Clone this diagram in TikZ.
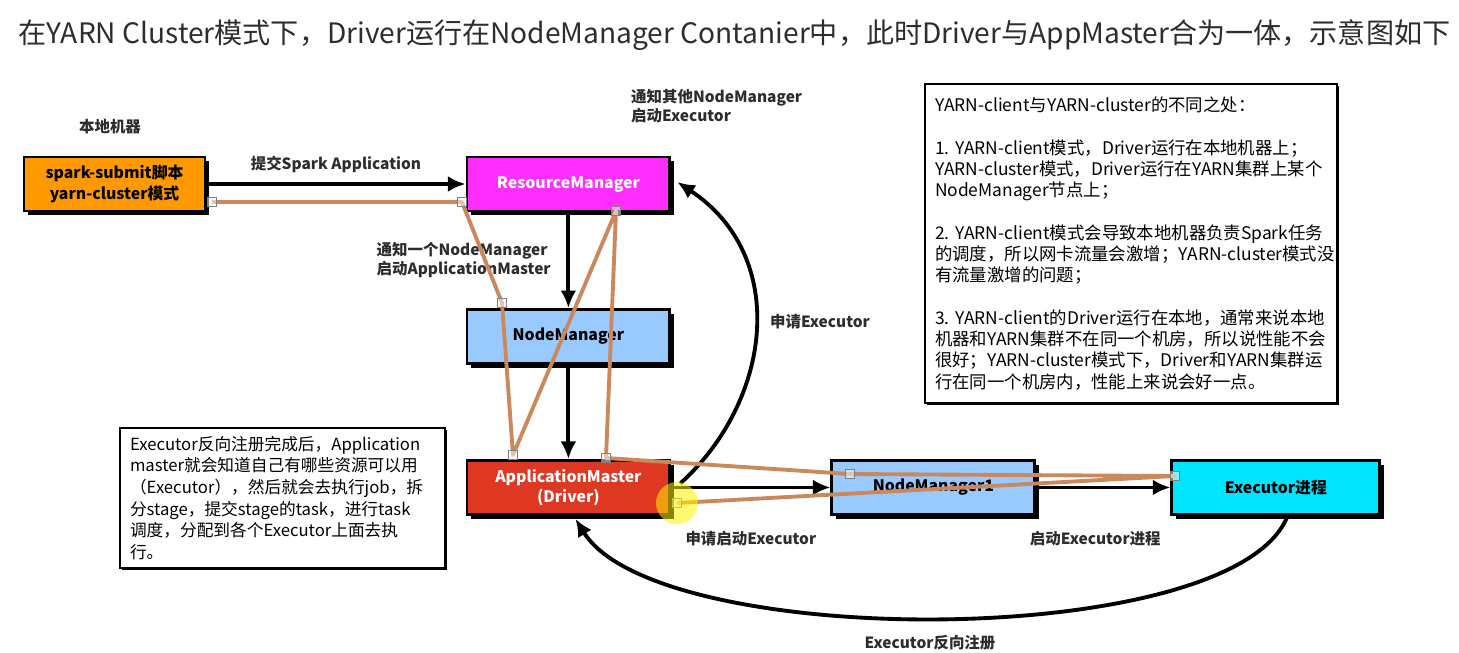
\documentclass[tikz,border=0pt]{standalone}
\usepackage{fontspec}
\setmainfont{Noto Sans CJK SC}
\usetikzlibrary{positioning, arrows.meta, shadows}
\definecolor{subOrange}{RGB}{255,153,0}
\definecolor{rmPink}{RGB}{255,45,255}
\definecolor{nmBlue}{RGB}{153,202,255}
\definecolor{amRed}{RGB}{222,56,34}
\definecolor{exeCyan}{RGB}{0,228,255}
\definecolor{penBrown}{RGB}{202,136,92}
\definecolor{inkGray}{RGB}{45,45,45}
\tikzset{>={Latex[length=10pt,width=9pt]}}
\tikzset{
    box/.style={draw=black, line width=1.6pt, minimum width=4.06cm, minimum height=1.08cm,
        align=center, font=\bfseries\fontsize{9}{11.5}\selectfont,
        drop shadow={shadow xshift=2.5pt, shadow yshift=-2.5pt, fill=black, opacity=1}},
    note/.style={draw=black, line width=1.3pt, fill=white, align=left,
        execute at begin node={\hyphenpenalty=10000 \exhyphenpenalty=10000},
        drop shadow={shadow xshift=1.2pt, shadow yshift=-1.2pt, fill=black, opacity=1}},
    lbl/.style={font=\bfseries\fontsize{8.8}{11}\selectfont, text=inkGray, align=left},
    flow/.style={->, line width=2.2pt},
    pen/.style={penBrown, line width=2.2pt, line join=round},
    knob/.style={draw=gray, fill=white, fill opacity=0.5, line width=0.5pt, minimum size=5pt, inner sep=0pt}
}
\begin{document}
\begin{tikzpicture}[x=0.02cm, y=-0.02cm, node distance=2cm, on grid]
    \useasboundingbox (0,0) rectangle (1459,652);
    % title
    \node[anchor=west, inner sep=0pt, text=inkGray, font=\fontsize{16}{19}\selectfont] (title) at (18,35)
        {在YARN Cluster模式下，Driver运行在NodeManager Contanier中，此时Driver与AppMaster合为一体，示意图如下};
    % boxes
    \node[box, fill=subOrange, minimum width=3.62cm] (sub) at (114.5,184) {spark-submit脚本\\yarn-cluster模式};
    \node[box, fill=rmPink, text=white, right=9.08cm of sub] (rm) {ResourceManager};
    \node[box, fill=nmBlue, below=3.05cm of rm] (nm) {NodeManager};
    \node[box, fill=amRed, text=white, below=3.02cm of nm] (am) {ApplicationMaster\\(Driver)};
    \node[box, fill=nmBlue, right=7.3cm of am] (nm1) {NodeManager1};
    \node[box, fill=exeCyan, minimum width=4.16cm, right=6.85cm of nm1] (exe) {Executor进程};
    \node[lbl] (local) at (110,127) {本地机器};
    \node[lbl, anchor=west] (tellall) at (625,106) {通知其他NodeManager\\启动Executor};
    % notes
    \node[note, minimum width=8.24cm, minimum height=6.38cm, text width=7.84cm,
        font=\fontsize{9.9}{12.1}\selectfont] (diff) at (1131,243.5)
        {YARN-client与YARN-cluster的不同之处：\\[12.1pt]
        1.~YARN-client模式，Driver运行在本地机器上；\\
        YARN-cluster模式，Driver运行在YARN集群上某个\\
        NodeManager节点上；\\[12.1pt]
        2.~YARN-client模式会导致本地机器负责Spark任务\\
        的调度，所以网卡流量会激增；YARN-cluster模式没\\
        有流量激增的问题；\\[12.1pt]
        3.~YARN-client的Driver运行在本地，通常来说本地\\
        机器和YARN集群不在同一个机房，所以说性能不会\\
        很好；YARN-cluster模式下，Driver和YARN集群运\\
        行在同一个机房内，性能上来说会好一点。};
    \node[note, minimum width=6.5cm, minimum height=2.8cm, text width=6.1cm,
        font=\fontsize{9.5}{12.3}\selectfont] (after) at (282.5,498)
        {Executor反向注册完成后，Application\\
        master就会知道自己有哪些资源可以用\\
        （Executor），然后就会去执行job，拆\\
        分stage，提交stage的task，进行task\\
        调度，分配到各个Executor上面去执\\
        行。};
    % arrows
    \draw[flow] (sub) -- node[lbl, above=0.08cm] {提交Spark Application} (rm);
    \draw[flow] (rm) -- node[lbl, left=0.2cm] {通知一个NodeManager\\启动ApplicationMaster} (nm);
    \draw[flow] (nm) -- (am);
    \draw[flow] (am) -- node[lbl, below=0.72cm] {申请启动Executor} (nm1);
    \draw[flow] (nm1) -- node[lbl, below=0.72cm, xshift=-0.16cm] {启动Executor进程} (exe);
    \draw[flow] ([xshift=0.18cm, yshift=0.08cm]am.east) .. controls +(92,-83) and +(112,74) .. ([xshift=0.12cm, yshift=0.04cm]rm.east);
    \node[lbl] (ask) at (820,322) {申请Executor};
    \draw[flow] ([xshift=0.22cm, yshift=-0.04cm]exe.south) .. controls +(-57,133) and +(82,132) .. ([xshift=0.14cm, yshift=-0.06cm]am.south);
    \node[lbl] (back) at (930,643) {Executor反向注册};
    % pen strokes
    \coordinate (p0) at (212,202);
    \coordinate (p1) at (462,202);
    \coordinate (p2) at (502,303);
    \coordinate (p3) at (513,455);
    \coordinate (p4) at (616,211);
    \coordinate (p5) at (606,458);
    \coordinate (p6) at (850,474);
    \coordinate (p7) at (1175,476);
    \coordinate (p8) at (677,503);
    \draw[pen] (p0) -- (p1) -- (p2) -- (p3) -- (p4) -- (p5) -- (p6) -- (p7) -- (p8);
    \foreach \p in {p0,p1,p2,p3,p4,p5,p6,p7,p8}
        \node[knob] at (\p) {};
    \fill[yellow, opacity=0.55] (p8) circle[radius=0.42cm];
\end{tikzpicture}
\end{document}
